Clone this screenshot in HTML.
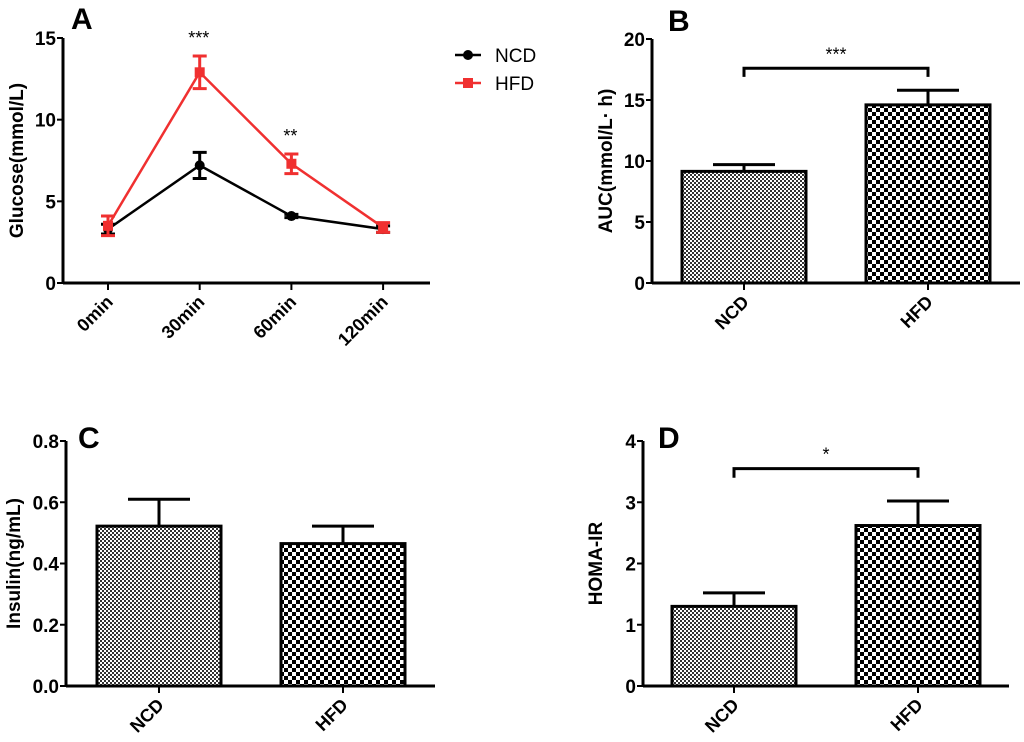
<!DOCTYPE html>
<html><head><meta charset="utf-8"><style>
body{margin:0;background:#fff}
svg{display:block;font-family:"Liberation Sans",Arial,sans-serif}
</style></head><body>
<svg id="fig" width="1024" height="742" viewBox="0 0 1024 742" xmlns="http://www.w3.org/2000/svg">
<defs>
<pattern id="pNCD" width="4" height="4" patternUnits="userSpaceOnUse"><rect width="4" height="4" fill="#fff"/><rect width="2" height="2" fill="#333"/><rect x="2" y="2" width="2" height="2" fill="#333"/></pattern>
<pattern id="pHFD" width="8" height="8" patternUnits="userSpaceOnUse"><rect width="8" height="8" fill="#fff"/><rect width="4" height="4" fill="#000"/><rect x="4" y="4" width="4" height="4" fill="#000"/></pattern>
</defs>
</svg>
<script>
// Panel A data
const timeCats = ["0min","30min","60min","120min"];
const ncdGlucose = [3.3, 7.2, 4.1, 3.3];
const ncdGlucoseErr = [0.3, 0.8, 0.1, 0.2];
const hfdGlucose = [3.5, 12.9, 7.3, 3.4];
const hfdGlucoseErr = [0.6, 1.0, 0.6, 0.3];
const glucoseTicks = [0, 5, 10, 15];
const glucoseStars = ["***", "**"];
// Panel B
const groupCats = ["NCD","HFD"];
const aucValues = [9.15, 14.6];
const aucErr = [0.55, 1.2];
const aucTicks = [0, 5, 10, 15, 20];
// Panel C
const insulinValues = [0.522, 0.465];
const insulinErr = [0.088, 0.057];
const insulinTicks = [0.0, 0.2, 0.4, 0.6, 0.8];
// Panel D
const homaValues = [1.3, 2.62];
const homaErr = [0.22, 0.4];
const homaTicks = [0, 1, 2, 3, 4];

const svg = document.getElementById('fig');
const NS = 'http://www.w3.org/2000/svg';
function mk(tag, attrs, parent){
  const e = document.createElementNS(NS, tag);
  for (const k in attrs) e.setAttribute(k, attrs[k]);
  (parent || svg).appendChild(e);
  return e;
}
function txt(s, attrs, parent){ const t = mk('text', attrs, parent); t.textContent = s; return t; }

function yAxis(g, x0, yTop, yBot, ticks, fmt, title, titleX){
  const vmax = ticks[ticks.length-1];
  const y = v => yBot - (v / vmax) * (yBot - yTop);
  const ax = mk('line', {x1:x0, y1:yTop, x2:x0, y2:yBot, stroke:'#000', 'stroke-width':3}, g);
  
  
  ticks.forEach(t => {
    mk('line', {x1:x0-6, y1:y(t), x2:x0, y2:y(t), stroke:'#000', 'stroke-width':2}, g);
    const l = txt(fmt(t), {x:x0-7, y:y(t)+7, 'text-anchor':'end', 'font-size':19, 'font-weight':'bold'}, g);
    
    
  });
  const cy = (yTop + yBot) / 2;
  const tt = txt(title, {x:titleX, y:cy, 'text-anchor':'middle', 'font-size':19, 'font-weight':'bold', transform:`rotate(-90 ${titleX} ${cy})`}, g);
  
  
  return y;
}
function xAxis(g, x0, x1, yBot, xs, cats){
  const ax = mk('line', {x1:x0, y1:yBot, x2:x1, y2:yBot, stroke:'#000', 'stroke-width':3}, g);
  
  
  cats.forEach((c, i) => {
    mk('line', {x1:xs[i], y1:yBot, x2:xs[i], y2:yBot+7, stroke:'#000', 'stroke-width':2}, g);
    const tx = xs[i] + 6, ty = yBot + 20;
    const l = txt(c, {x:tx, y:ty, 'text-anchor':'end', 'font-size':18, 'font-weight':'bold', transform:`rotate(-45 ${tx} ${ty})`}, g);
    
    
  });
}
function panelLabel(g, s, x, y){
  const l = txt(s, {x:x, y:y, 'font-size':30, 'font-weight':'bold'}, g);
  
  
}

// ---------- Panel A ----------
(function(){
  const g = mk('g', {});
  
  
  panelLabel(g, 'A', 71, 29);
  const y = yAxis(g, 63, 38, 283, glucoseTicks, String, 'Glucose(mmol/L)', 23);
  const xs = timeCats.map((c, i) => 108 + i * 91.7);
  xAxis(g, 63, 430, 283, xs, timeCats);
  function series(vals, errs, color, marker, name){
    const sg = mk('g', {}, g);
    
    
    mk('polyline', {points: vals.map((v, i) => `${xs[i]},${y(v)}`).join(' '), fill:'none', stroke:color, 'stroke-width':2.5}, sg);
    vals.forEach((v, i) => {
      const e = errs[i];
      mk('path', {d:`M${xs[i]},${y(v-e)}V${y(v+e)}M${xs[i]-7},${y(v-e)}H${xs[i]+7}M${xs[i]-7},${y(v+e)}H${xs[i]+7}`, stroke:color, 'stroke-width':3, fill:'none'}, sg);
      let m;
      if (marker === 'circle') m = mk('circle', {cx:xs[i], cy:y(v), r:5, fill:color}, sg);
      else m = mk('rect', {x:xs[i]-5, y:y(v)-5, width:10, height:10, fill:color}, sg);
      
      
    });
  }
  series(ncdGlucose, ncdGlucoseErr, '#000', 'circle', 'series-ncd');
  series(hfdGlucose, hfdGlucoseErr, '#f03030', 'square', 'series-hfd');
  [1, 2].forEach((idx, k) => {
    const s = txt(glucoseStars[k], {x:xs[idx]-1, y:y(hfdGlucose[idx]+hfdGlucoseErr[idx]) - 12, 'text-anchor':'middle', 'font-size':18}, g);
    
    
  });
  const lg = mk('g', {}, g);
  
  
  mk('line', {x1:455, y1:55, x2:481, y2:55, stroke:'#000', 'stroke-width':2.5}, lg);
  mk('circle', {cx:468, cy:55, r:5, fill:'#000'}, lg);
  const t1 = txt('NCD', {x:495, y:62, 'font-size':19}, lg);
  
  
  mk('line', {x1:455, y1:83, x2:481, y2:83, stroke:'#f03030', 'stroke-width':2.5}, lg);
  mk('rect', {x:463, y:78, width:10, height:10, fill:'#f03030'}, lg);
  const t2 = txt('HFD', {x:495, y:90, 'font-size':19}, lg);
  
  
})();

// ---------- Bar panels ----------
function barPanel(o){
  const g = mk('g', {});
  
  
  panelLabel(g, o.label, o.lx, o.ly);
  const y = yAxis(g, o.x0, o.yTop, o.yBot, o.ticks, o.fmt, o.title, o.titleX);
  xAxis(g, o.x0, o.x1, o.yBot, o.centers, groupCats);
  const fills = ['url(#pNCD)', 'url(#pHFD)'];
  o.vals.forEach((v, i) => {
    const c = o.centers[i], w = o.bw;
    const top = y(v + o.errs[i]);
    mk('path', {d:`M${c},${y(v)}V${top}M${c-31},${top}H${c+31}`, stroke:'#000', 'stroke-width':3, fill:'none'}, g);
    const b = mk('rect', {x:c-w/2, y:y(v), width:w, height:o.yBot-y(v), fill:fills[i], stroke:'#000', 'stroke-width':3}, g);
    
    
  });
  if (o.sig){
    const by = y(o.sig.level), bd = y(o.sig.level - o.sig.drop);
    const br = mk('path', {d:`M${o.centers[0]},${bd}V${by}H${o.centers[1]}V${bd}`, stroke:'#000', 'stroke-width':3, fill:'none'}, g);
    
    
    const s = txt(o.sig.text, {x:(o.centers[0]+o.centers[1])/2, y:by-8, 'text-anchor':'middle', 'font-size':18}, g);
    
    
  }
}
barPanel({name:'panel-b-auc-chart', label:'B', lx:668, ly:31, x0:652, x1:1020, yTop:39, yBot:283, ticks:aucTicks, fmt:String,
  title:'AUC(mmol/L· h)', titleX:612, centers:[744, 928], bw:124, vals:aucValues, errs:aucErr,
  sig:{level:17.6, drop:0.7, text:'***'}});
barPanel({name:'panel-c-insulin-chart', label:'C', lx:78, ly:448, x0:66, x1:435, yTop:441, yBot:686, ticks:insulinTicks, fmt:v=>v.toFixed(1),
  title:'Insulin(ng/mL)', titleX:20, centers:[159, 343], bw:124, vals:insulinValues, errs:insulinErr});
barPanel({name:'panel-d-homa-chart', label:'D', lx:658, ly:448, x0:643, x1:1009, yTop:441, yBot:686, ticks:homaTicks, fmt:String,
  title:'HOMA-IR', titleX:602, centers:[734, 918], bw:124, vals:homaValues, errs:homaErr,
  sig:{level:3.55, drop:0.15, text:'*'}});
</script>
</body></html>
